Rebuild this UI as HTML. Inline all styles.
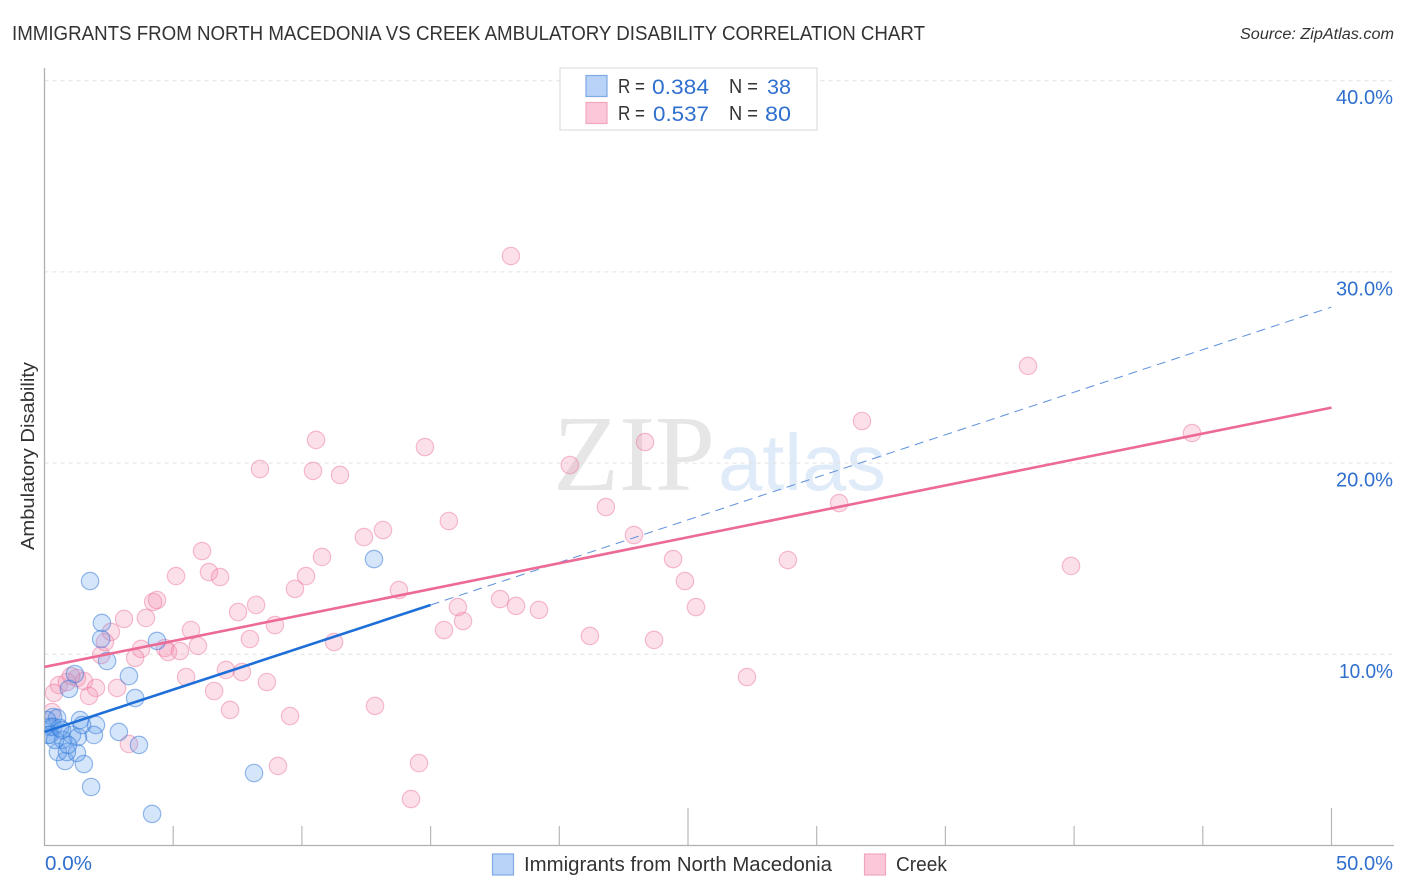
<!DOCTYPE html>
<html lang="en">
<head>
<meta charset="utf-8">
<title>Immigrants from North Macedonia vs Creek Ambulatory Disability Correlation Chart</title>
<style>
html,body{margin:0;padding:0;background:#fff;width:1406px;height:892px;overflow:hidden}
svg{display:block;font-family:"Liberation Sans",sans-serif}
</style>
</head>
<body>
<svg id="chart" width="1406" height="892" viewBox="0 0 1406 892" xmlns="http://www.w3.org/2000/svg">
  <defs>
    <clipPath id="plot-clip"><rect x="45" y="60" width="1349" height="785"/></clipPath>
  </defs>
  <text x="12" y="40" font-size="20" fill="#333" textLength="913" lengthAdjust="spacingAndGlyphs">IMMIGRANTS FROM NORTH MACEDONIA VS CREEK AMBULATORY DISABILITY CORRELATION CHART</text>
  <text x="1394" y="39" font-size="15.5" font-style="italic" fill="#333" text-anchor="end" textLength="154" lengthAdjust="spacingAndGlyphs">Source: ZipAtlas.com</text>
  <text transform="translate(34 456) rotate(-90)" font-size="18.5" fill="#333" text-anchor="middle" textLength="188" lengthAdjust="spacingAndGlyphs">Ambulatory Disability</text>

  <text x="553" y="490" font-family="'Liberation Serif',serif" font-size="108" fill="#e6e6e6" textLength="162" lengthAdjust="spacingAndGlyphs">ZIP</text>
  <text x="718" y="490" font-size="80" fill="#e0ebf9" textLength="168" lengthAdjust="spacingAndGlyphs">atlas</text>

  <g id="grid"></g>
  <g id="axes"></g>
  <g id="pink-points" clip-path="url(#plot-clip)"></g>
  <g id="blue-points" clip-path="url(#plot-clip)"></g>
  <g id="trends"></g>

  <g>
    <rect x="560" y="68" width="257" height="62" fill="#fff" stroke="#e0e0e0" stroke-width="1.3"/>
    <rect x="586" y="75.500" width="21" height="21" fill="#b8d3f7" stroke="#7eaae6" stroke-width="1.2"/>
    <rect x="586" y="102.500" width="21" height="21" fill="#fcc8d9" stroke="#f0a6bf" stroke-width="1.2"/>
    <g font-size="20">
      <text x="618" y="93" fill="#333" textLength="27" lengthAdjust="spacingAndGlyphs">R =</text>
      <text x="652" y="94" font-size="21.500" fill="#2f6fce" textLength="57" lengthAdjust="spacingAndGlyphs">0.384</text>
      <text x="729" y="93" fill="#333" textLength="29" lengthAdjust="spacingAndGlyphs">N =</text>
      <text x="767" y="94" font-size="21.500" fill="#2f6fce" textLength="24" lengthAdjust="spacingAndGlyphs">38</text>
      <text x="618" y="120" fill="#333" textLength="27" lengthAdjust="spacingAndGlyphs">R =</text>
      <text x="653" y="121" font-size="21.500" fill="#2f6fce" textLength="56" lengthAdjust="spacingAndGlyphs">0.537</text>
      <text x="729" y="120" fill="#333" textLength="29" lengthAdjust="spacingAndGlyphs">N =</text>
      <text x="765" y="121" font-size="21.500" fill="#2f6fce" textLength="26" lengthAdjust="spacingAndGlyphs">80</text>
    </g>
  </g>

  <g>
    <rect x="492.500" y="854" width="21" height="21" fill="#b8d3f7" stroke="#7eaae6" stroke-width="1.2"/>
    <text x="524" y="871" font-size="20" fill="#333" textLength="308" lengthAdjust="spacingAndGlyphs">Immigrants from North Macedonia</text>
    <rect x="864.500" y="854" width="21" height="21" fill="#fcc8d9" stroke="#f0a6bf" stroke-width="1.2"/>
    <text x="896" y="871" font-size="20" fill="#333" textLength="51" lengthAdjust="spacingAndGlyphs">Creek</text>
  </g>
</svg>
<script>
const yTickValues = [10, 20, 30, 40];
const yTickLabels = ["10.0%", "20.0%", "30.0%", "40.0%"];
const xTickValues = [0, 5, 10, 15, 20, 25, 30, 35, 40, 45, 50];
const xEndLabels = ["0.0%", "50.0%"];
const blueX = [1.77,2.23,2.20,2.43,4.37,3.28,3.52,1.18,0.95,1.38,2.00,1.92,2.89,3.67,1.53,0.80,1.26,1.81,4.18,8.14,12.80,0.33,0.21,0.49,0.14,0.10,0.33,0.21,0.52,0.87,0.72,0.41,1.07,1.30,1.46,0.60,0.91,0.68];
const blueY = [13.83,11.64,10.80,9.65,10.70,8.86,7.71,8.97,8.19,6.56,6.30,5.78,5.94,5.26,4.26,4.42,4.84,3.06,1.65,3.79,14.98,6.72,6.20,6.67,5.78,6.56,6.20,5.78,4.89,4.89,5.52,5.52,5.78,5.67,6.30,6.15,5.26,6.04];
const pinkX = [18.12,38.21,31.76,44.58,23.33,14.78,10.55,8.37,10.43,11.48,20.41,30.87,21.81,15.71,13.15,12.41,22.90,6.12,10.78,24.42,28.88,39.88,5.11,6.39,6.82,10.16,9.73,13.77,24.88,4.22,4.37,8.22,7.52,17.70,18.32,19.21,16.06,25.31,3.09,3.94,8.95,5.69,15.52,16.26,2.58,21.19,23.68,2.35,7.98,11.25,3.75,4.68,4.80,5.26,5.96,2.20,3.52,7.05,7.67,27.29,5.50,8.64,1.53,1.26,2.00,1.03,0.56,0.87,2.82,1.73,0.37,6.59,7.21,12.84,9.54,3.28,9.07,14.55,14.24,0.29];
const pinkY = [30.83,25.08,22.20,21.57,21.10,20.84,21.21,19.69,19.59,19.38,19.90,17.91,17.70,16.97,16.50,16.13,16.24,15.40,15.09,14.98,14.93,14.62,14.09,14.30,14.04,14.09,13.42,13.36,13.83,12.74,12.84,12.58,12.21,12.89,12.53,12.32,12.47,12.47,11.85,11.90,11.53,11.27,11.27,11.74,11.17,10.96,10.75,10.64,10.80,10.64,10.28,10.33,10.12,10.17,10.44,9.96,9.81,9.18,9.07,8.81,8.81,8.55,8.60,8.76,8.24,8.86,8.39,8.55,8.24,7.82,7.98,8.08,7.09,7.30,6.77,5.31,4.16,4.31,2.43,6.98];
const blueTrendX = [0, 15, 50];
const blueTrendY = [5.94, 12.58, 28.16];
const pinkTrendX = [0, 50];
const pinkTrendY = [9.34, 22.90];

const NS = "http://www.w3.org/2000/svg";
const xScale = v => 44.5 + v * 25.74;
const yScale = v => 845.5 - v * 19.12;

function make(tag, attrs, parent) {
  const el = document.createElementNS(NS, tag);
  for (const k in attrs) el.setAttribute(k, attrs[k]);
  parent.appendChild(el);
  return el;
}

const grid = document.getElementById("grid");
const axes = document.getElementById("axes");
const pinkLayer = document.getElementById("pink-points");
const blueLayer = document.getElementById("blue-points");
const trends = document.getElementById("trends");

yTickValues.forEach((v, i) => {
  const line = make("line", {x1: 44.5, x2: 1394, y1: yScale(v), y2: yScale(v), stroke: "#e2e2e2", "stroke-width": 1, "stroke-dasharray": "4 4"}, grid);
  
  
  const label = make("text", {x: 1393, y: yScale(v) + 23.5, "font-size": 20.5, fill: "#2f6fce", "text-anchor": "end", textLength: v === 10 ? 54 : 57, lengthAdjust: "spacingAndGlyphs"}, axes);
  
  
  label.textContent = yTickLabels[i];
});

const yAxis = make("line", {x1: 44.5, x2: 44.5, y1: 68, y2: 846, stroke: "#b0b0b0", "stroke-width": 1.3}, axes);


const xAxis = make("line", {x1: 44, x2: 1394, y1: 845.5, y2: 845.5, stroke: "#b0b0b0", "stroke-width": 1.3}, axes);



xTickValues.forEach(v => {
  if (v === 0) return;
  const major = v % 25 === 0;
  const tick = make("line", {x1: xScale(v), x2: xScale(v), y1: major ? 808 : 826, y2: 845, stroke: "#b8b8b8", "stroke-width": 1.2}, axes);
  
  
});

const xLabelLeft = make("text", {x: 45, y: 870, "font-size": 20.5, fill: "#2f6fce", textLength: 47, lengthAdjust: "spacingAndGlyphs"}, axes);


xLabelLeft.textContent = xEndLabels[0];
const xLabelRight = make("text", {x: 1393, y: 870, "font-size": 20.5, fill: "#2f6fce", "text-anchor": "end", textLength: 57, lengthAdjust: "spacingAndGlyphs"}, axes);


xLabelRight.textContent = xEndLabels[1];

pinkX.forEach((v, i) => {
  const c = make("circle", {cx: xScale(v), cy: yScale(pinkY[i]), r: 8.7, fill: "rgba(244,143,177,0.28)", stroke: "rgba(236,120,160,0.48)", "stroke-width": 1.2}, pinkLayer);
  
  
});

blueX.forEach((v, i) => {
  const c = make("circle", {cx: xScale(v), cy: yScale(blueY[i]), r: 8.7, fill: "rgba(100,160,235,0.27)", stroke: "rgba(50,120,215,0.5)", "stroke-width": 1.2}, blueLayer);
  
  
});

const blueDash = make("line", {x1: xScale(blueTrendX[1]), y1: yScale(blueTrendY[1]), x2: xScale(blueTrendX[2]), y2: yScale(blueTrendY[2]), stroke: "#5c8fdc", "stroke-width": 1, "stroke-dasharray": "9 6"}, trends);


const pinkLine = make("line", {x1: xScale(pinkTrendX[0]), y1: yScale(pinkTrendY[0]), x2: xScale(pinkTrendX[1]), y2: yScale(pinkTrendY[1]), stroke: "#ec6a94", "stroke-width": 2.6}, trends);


const blueLine = make("line", {x1: xScale(blueTrendX[0]), y1: yScale(blueTrendY[0]), x2: xScale(blueTrendX[1]), y2: yScale(blueTrendY[1]), stroke: "#1f6fd8", "stroke-width": 2.6}, trends);


</script>
</body>
</html>
